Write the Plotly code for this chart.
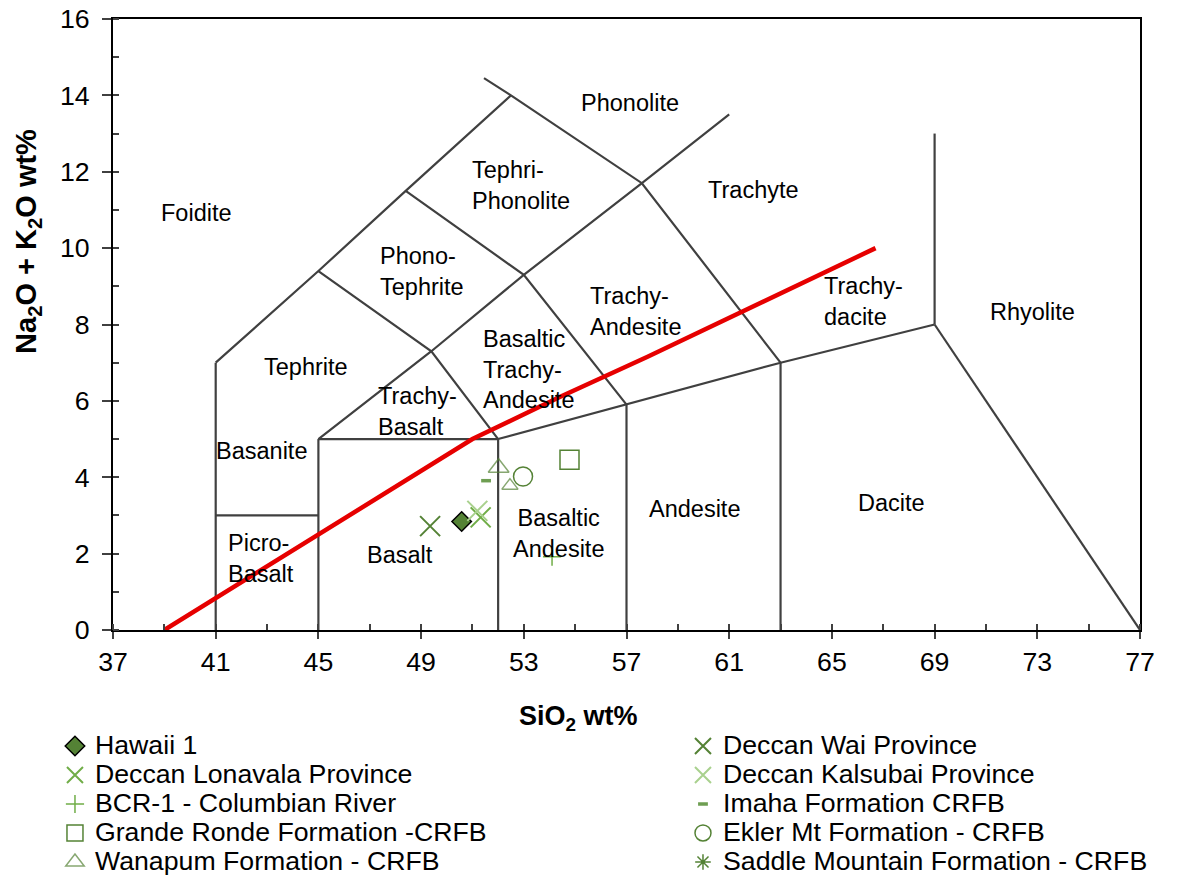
import plotly.graph_objects as go

FONT = "Liberation Sans, Arial, sans-serif"

# ---------------- data ----------------
hawaii_x = [50.58];  hawaii_y = [2.84]
wai_x = [49.35];     wai_y = [2.72]
lonavala_x = [51.32]; lonavala_y = [2.95]
kalsubai_x = [51.19]; kalsubai_y = [3.12]
bcr_x = [54.10];     bcr_y = [1.92]
imaha_x = [51.53];   imaha_y = [3.91]
grande_x = [54.78];  grande_y = [4.46]
ekler_x = [52.97];   ekler_y = [4.02]
wanapum_x = [52.02, 52.46]; wanapum_y = [4.25, 3.78]
saddle_x = [None];   saddle_y = [None]   # no visible point in the reference

# alkaline / sub-alkaline divide (red line)
divide_x = [39.0, 41.0, 45.0, 49.0, 51.0, 54.4, 57.8, 66.7]
divide_y = [0.0, 0.83, 2.49, 4.16, 5.0, 6.1, 7.15, 10.0]

# TAS field boundaries (SiO2, Na2O+K2O) polylines
tas_lines = [
    [(41, 0), (41, 7)],
    [(41, 3), (45, 3)],
    [(45, 0), (45, 5)],
    [(45, 5), (52, 5)],
    [(52, 0), (52, 5)],
    [(57, 0), (57, 5.9)],
    [(63, 0), (63, 7)],
    [(52, 5), (57, 5.9), (63, 7), (69, 8)],
    [(69, 8), (69, 13)],
    [(69, 8), (77, 0)],
    [(41, 7), (45, 9.4), (48.4, 11.5), (52.5, 14)],
    [(51.45, 14.45), (52.5, 14), (57.6, 11.7), (63, 7)],
    [(45, 5), (49.4, 7.3), (53, 9.3), (57.6, 11.7), (61, 13.5)],
    [(45, 9.4), (49.4, 7.3), (52, 5)],
    [(48.4, 11.5), (53, 9.3), (57, 5.9)],
]

x_tick_vals = [37, 41, 45, 49, 53, 57, 61, 65, 69, 73, 77]
y_tick_vals = [0, 2, 4, 6, 8, 10, 12, 14, 16]


def big(text, px):
    return f'<span style="font-size:{px}px">{text}</span>'


LEG_PX = 26.7
fig = go.Figure()

bx, by = [], []
for seg in tas_lines:
    for (x, y) in seg:
        bx.append(x)
        by.append(y)
    bx.append(None)
    by.append(None)
fig.add_trace(go.Scatter(x=bx, y=by, mode="lines", line=dict(color="#404040", width=2.2),
                         showlegend=False, hoverinfo="skip"))

fig.add_trace(go.Scatter(x=divide_x, y=divide_y, mode="lines", line=dict(color="#E60000", width=4.5),
                         showlegend=False, hoverinfo="skip"))

DG = "#548235"
MG = "#70AD47"
LG = "#A9D18E"

series = [
    ("Hawaii 1", hawaii_x, hawaii_y, dict(symbol="diamond", size=15, color=DG, line=dict(color="black", width=1.5)), "legend"),
    ("Deccan Wai Province", wai_x, wai_y, dict(symbol="x-thin-open", size=20, color=DG, line=dict(color=DG, width=2)), "legend2"),
    ("Deccan Lonavala Province", lonavala_x, lonavala_y, dict(symbol="x-thin-open", size=20, color=MG, line=dict(color=MG, width=2)), "legend"),
    ("Deccan Kalsubai Province", kalsubai_x, kalsubai_y, dict(symbol="x-thin-open", size=20, color=LG, line=dict(color=LG, width=2)), "legend2"),
    ("BCR-1 - Columbian River", bcr_x, bcr_y, dict(symbol="cross-thin-open", size=13, color=MG, line=dict(color=MG, width=1.5)), "legend"),
    ("Imaha Formation CRFB", imaha_x, imaha_y, dict(symbol="line-ew-open", size=7, color="#6E9E52", line=dict(color="#6E9E52", width=3.5)), "legend2"),
    ("Grande Ronde Formation -CRFB", grande_x, grande_y, dict(symbol="square-open", size=19, color=DG, line=dict(color=DG, width=1.5)), "legend"),
    ("Ekler Mt Formation - CRFB", ekler_x, ekler_y, dict(symbol="circle-open", size=19, color=DG, line=dict(color=DG, width=1.5)), "legend2"),
    ("Wanapum Formation - CRFB", wanapum_x, wanapum_y, dict(symbol="triangle-up-open", size=[18, 14], color=DG, line=dict(color=DG, width=1.5)), "legend"),
    ("Saddle Mountain Formation - CRFB", saddle_x, saddle_y, dict(symbol="asterisk-open", size=13, color=DG, line=dict(color=DG, width=1.5)), "legend2"),
]
for name, xs, ys, mk, leg in series:
    fig.add_trace(go.Scatter(x=xs, y=ys, mode="markers", name=big(name, LEG_PX), marker=mk,
                             legend=leg, showlegend=True))

# region labels: (text, x, y, xanchor)
labels = [
    ("Foidite", 40.27, 10.92, "center"),
    ("Phonolite", 57.14, 13.80, "center"),
    ("Tephri-<br>Phonolite", 50.94, 11.63, "left"),
    ("Trachyte", 61.95, 11.52, "center"),
    ("Phono-<br>Tephrite", 47.36, 9.40, "left"),
    ("Tephrite", 44.52, 6.88, "center"),
    ("Basanite", 42.80, 4.70, "center"),
    ("Trachy-<br>Basalt", 47.29, 5.71, "left"),
    ("Basaltic<br>Trachy-<br>Andesite", 51.36, 6.83, "left"),
    ("Trachy-<br>Andesite", 55.55, 8.33, "left"),
    ("Trachy-<br>dacite", 64.67, 8.59, "left"),
    ("Rhyolite", 72.80, 8.33, "center"),
    ("Picro-<br>Basalt", 41.45, 1.88, "left"),
    ("Basalt", 48.18, 1.96, "center"),
    ("Basaltic<br>Andesite", 54.37, 2.54, "center"),
    ("Andesite", 59.65, 3.17, "center"),
    ("Dacite", 67.34, 3.33, "center"),
]
annotations = []
for text, x, y, xa in labels:
    annotations.append(dict(x=x, y=y, xref="x", yref="y", text=text, showarrow=False,
                            xanchor=xa, yanchor="middle", align=xa,
                            font=dict(family=FONT, size=23.5, color="black"), borderpad=0))

annotations.append(dict(x=0.4528, y=-0.144, xref="paper", yref="paper",
                        text="<b>SiO<sub>2</sub> wt%</b>", showarrow=False,
                        xanchor="center", yanchor="middle",
                        font=dict(family=FONT, size=27, color="black")))
annotations.append(dict(x=-0.0828, y=0.6367, xref="paper", yref="paper",
                        text="<b>Na<sub>2</sub>O + K<sub>2</sub>O wt%</b>", showarrow=False,
                        textangle=-90, xanchor="center", yanchor="middle",
                        font=dict(family=FONT, size=29, color="black")))

# the page body adds an 8 px offset, so the figure is 8 px smaller than the window
fig.update_layout(
    width=1171, height=871,
    margin=dict(l=105, r=39, t=11, b=249, autoexpand=False),
    paper_bgcolor="white", plot_bgcolor="white",
    font=dict(family=FONT, color="black"),
    annotations=annotations,
    legend=dict(x=-0.0565, y=-0.1579, xanchor="left", yanchor="top", orientation="v",
                font=dict(family=FONT, size=20, color="black"), bgcolor="rgba(0,0,0,0)",
                tracegroupgap=0),
    legend2=dict(x=0.555, y=-0.1579, xanchor="left", yanchor="top", orientation="v",
                 font=dict(family=FONT, size=20, color="black"), bgcolor="rgba(0,0,0,0)",
                 tracegroupgap=0),
)
fig.update_xaxes(
    range=[37, 77], tickmode="array", tickvals=x_tick_vals,
    ticks="outside", ticklen=7, tickwidth=1.5, tickcolor="#404040",
    minor=dict(ticks="inside", dtick=2, tick0=37, ticklen=6, tickwidth=1.5, tickcolor="#404040"),
    showline=True, linecolor="black", linewidth=2, mirror=True,
    showgrid=False, zeroline=False, automargin=False, ticklabeloverflow="allow",
    tickfont=dict(family=FONT, size=26.7, color="black"),
)
fig.update_yaxes(
    range=[0, 16], tickmode="array", tickvals=y_tick_vals,
    ticks="outside", ticklen=9, tickwidth=1.5, tickcolor="#404040",
    minor=dict(ticks="inside", dtick=1, tick0=0, ticklen=6, tickwidth=1.5, tickcolor="#404040"),
    showline=True, linecolor="black", linewidth=2, mirror=True,
    showgrid=False, zeroline=False, automargin=False, ticklabelstandoff=7,
    ticklabeloverflow="allow",
    tickfont=dict(family=FONT, size=26.7, color="black"),
)

fig.write_html("out.html")
